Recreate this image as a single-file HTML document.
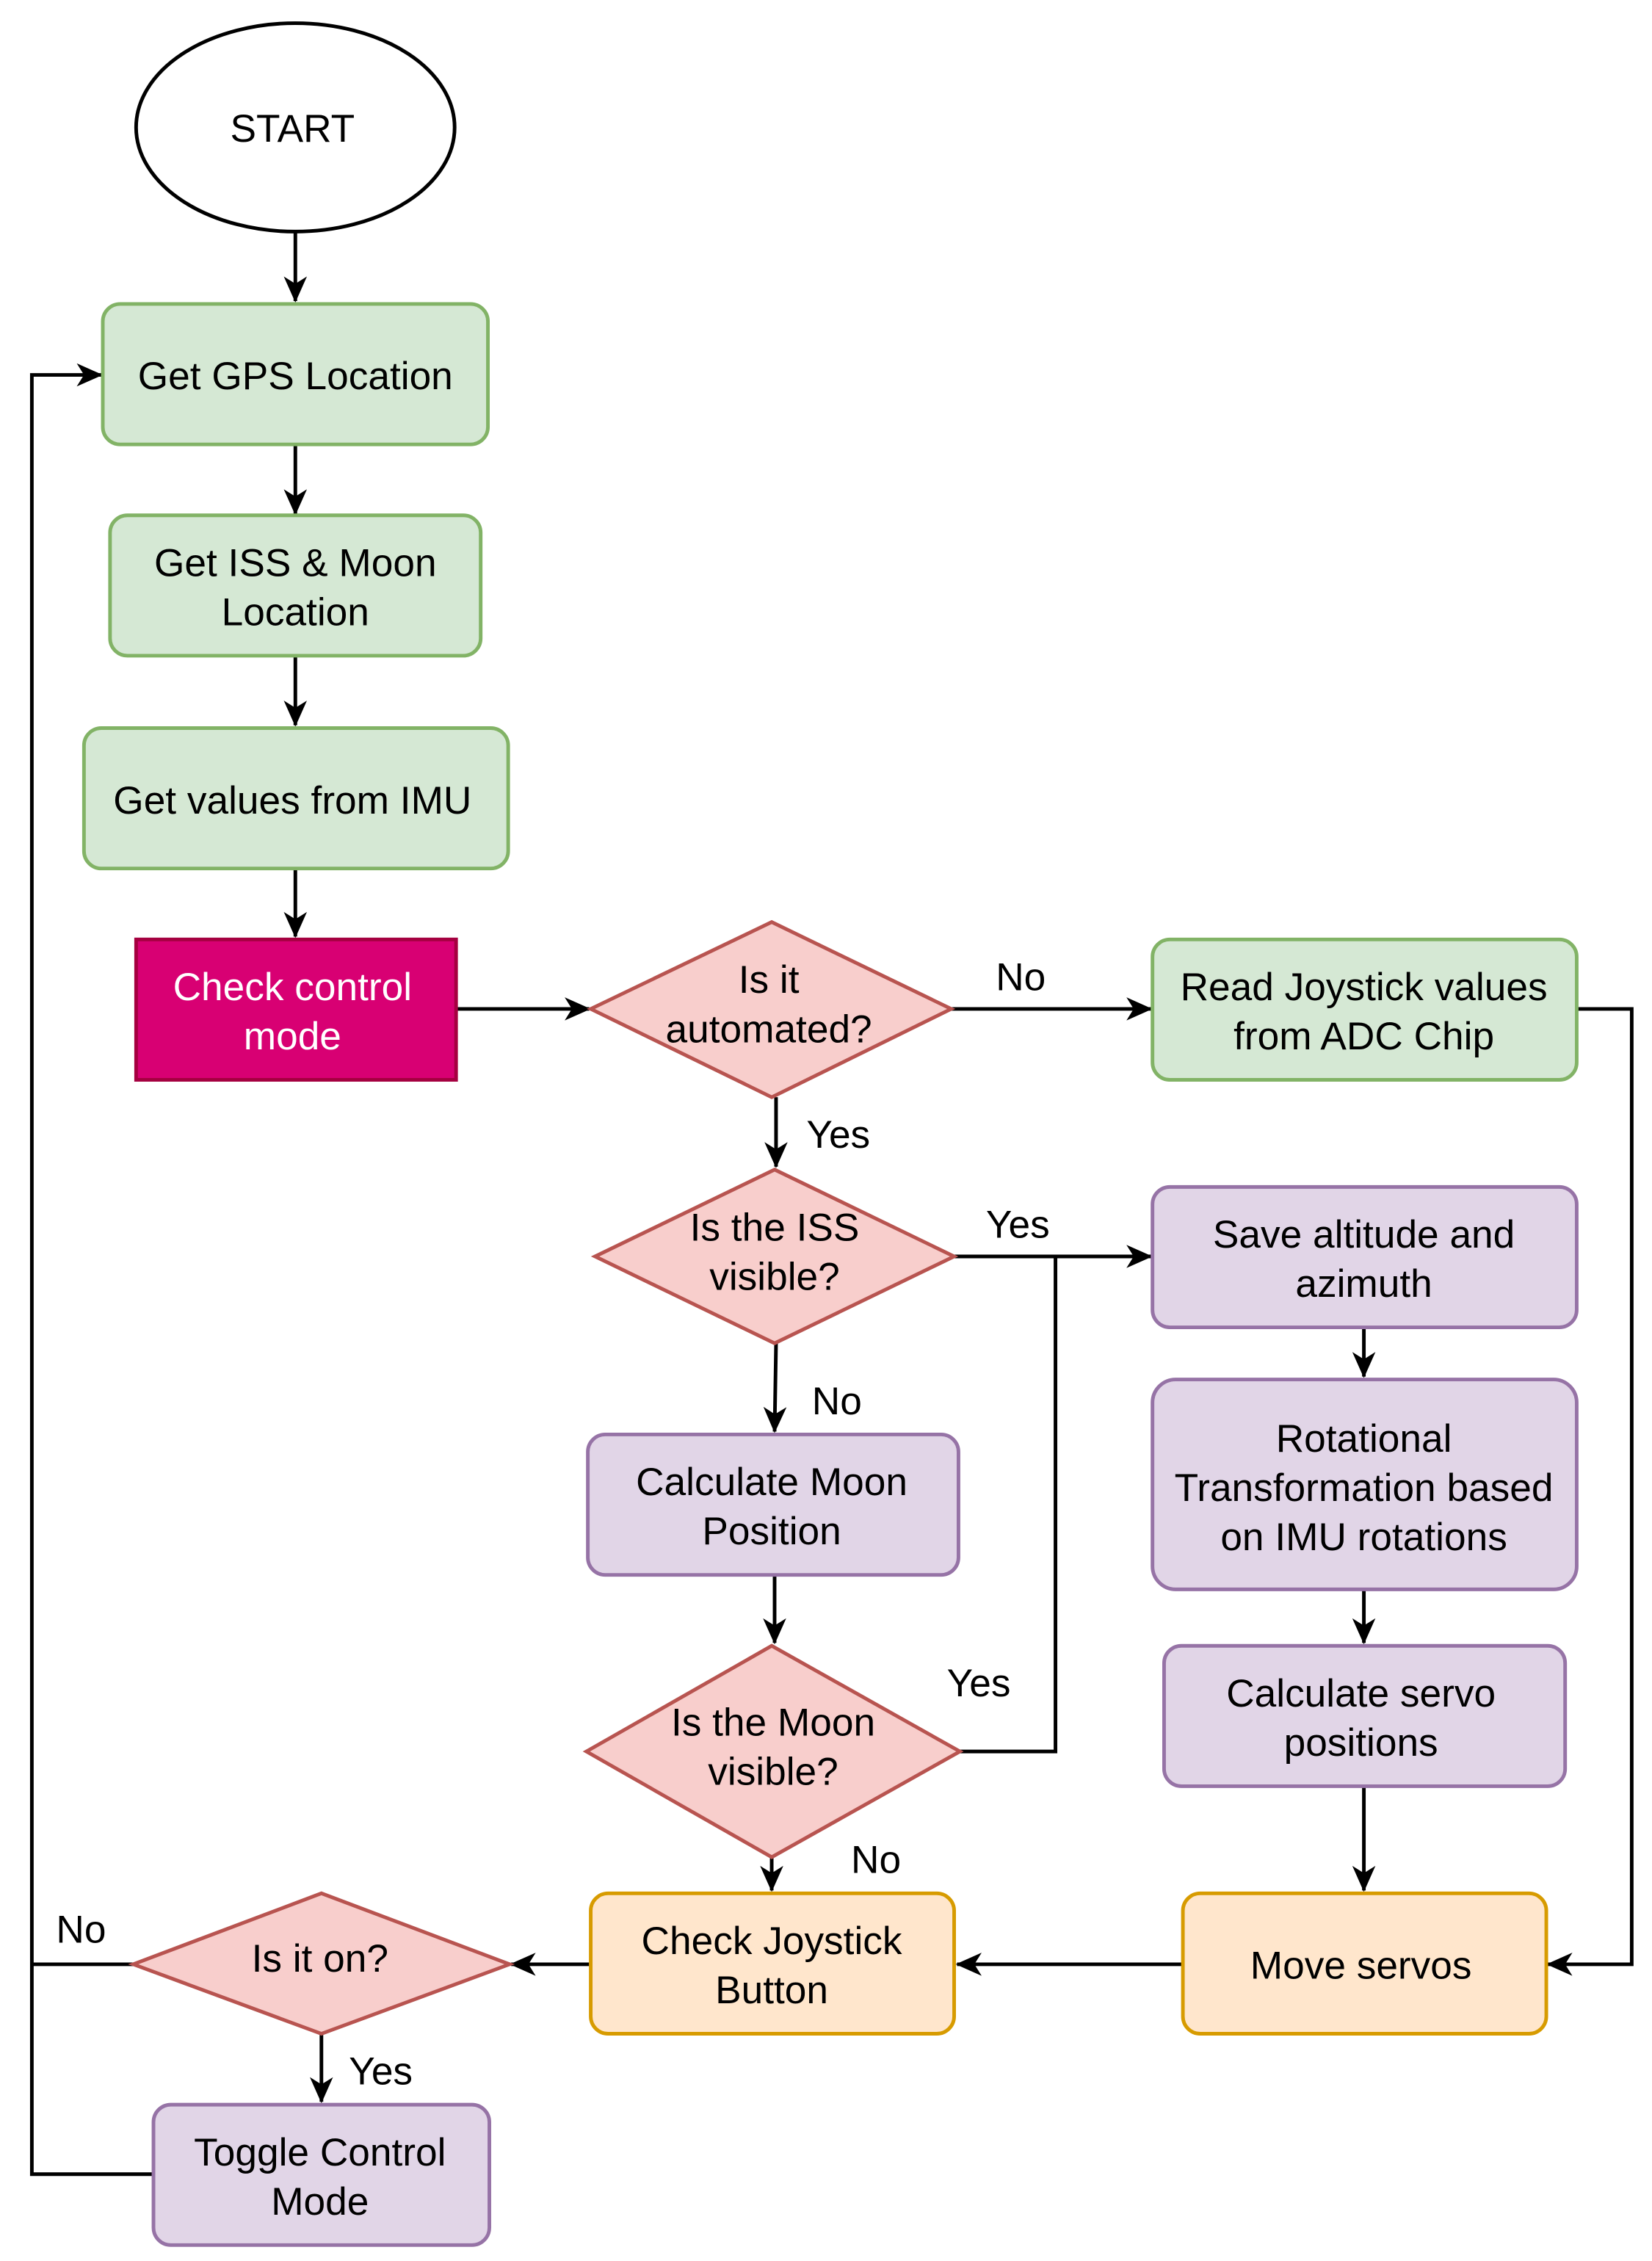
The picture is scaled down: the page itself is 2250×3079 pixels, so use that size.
<!DOCTYPE html>
<html><head><meta charset="utf-8"><style>
html,body{margin:0;padding:0;background:#fff;}
svg{display:block;}
text{font-family:"Liberation Sans",sans-serif;font-size:27px;fill:#000;text-anchor:middle;}
</style></head><body>
<svg width="2250" height="3079" viewBox="0 0 1141 1562" preserveAspectRatio="none" xmlns="http://www.w3.org/2000/svg">
<defs>
<marker id="a" markerWidth="18" markerHeight="16" refX="17" refY="8" orient="auto" markerUnits="userSpaceOnUse" viewBox="0 0 18 16">
<path d="M0,0 L18,8 L0,16 L5,8 Z" fill="#000"/>
</marker>
</defs>
<rect width="1141" height="1562" fill="#fff"/>
<g stroke="#000" stroke-width="2.5" fill="none">
<line x1="204" y1="160" x2="204" y2="208" marker-end="url(#a)"/>
<line x1="204" y1="307" x2="204" y2="355" marker-end="url(#a)"/>
<line x1="204" y1="453" x2="204" y2="501" marker-end="url(#a)"/>
<line x1="204" y1="600" x2="204" y2="647" marker-end="url(#a)"/>
<line x1="315" y1="697" x2="407" y2="697" marker-end="url(#a)"/>
<line x1="657" y1="697" x2="795" y2="697" marker-end="url(#a)"/>
<polyline points="1089,697 1127,697 1127,1357 1069,1357" marker-end="url(#a)"/>
<line x1="536" y1="758" x2="536" y2="806" marker-end="url(#a)"/>
<line x1="659" y1="868" x2="795" y2="868" marker-end="url(#a)"/>
<line x1="942" y1="917" x2="942" y2="951" marker-end="url(#a)"/>
<line x1="942" y1="1098" x2="942" y2="1135" marker-end="url(#a)"/>
<line x1="942" y1="1234" x2="942" y2="1306" marker-end="url(#a)"/>
<line x1="817" y1="1357" x2="661" y2="1357" marker-end="url(#a)"/>
<line x1="536" y1="928" x2="535" y2="989" marker-end="url(#a)"/>
<line x1="535" y1="1088" x2="535" y2="1135" marker-end="url(#a)"/>
<polyline points="663,1210 729,1210 729,868"/>
<line x1="533" y1="1283" x2="533" y2="1306" marker-end="url(#a)"/>
<line x1="408" y1="1357" x2="353" y2="1357" marker-end="url(#a)"/>
<line x1="92" y1="1357" x2="22" y2="1357"/>
<polyline points="106,1502 22,1502 22,259 70,259" marker-end="url(#a)"/>
<line x1="222" y1="1405" x2="222" y2="1452" marker-end="url(#a)"/>
</g>
<g stroke-width="2.5">
<ellipse cx="204" cy="88" rx="110" ry="72" fill="#fff" stroke="#000"/>
<rect x="71" y="210" width="266" height="97" rx="12" fill="#d5e8d4" stroke="#82b366"/>
<rect x="76" y="356" width="256" height="97" rx="12" fill="#d5e8d4" stroke="#82b366"/>
<rect x="58" y="503" width="293" height="97" rx="12" fill="#d5e8d4" stroke="#82b366"/>
<rect x="94" y="649" width="221" height="97" fill="#d80073" stroke="#a50040"/>
<polygon points="408,697 533,637 657,697 533,758" fill="#f8cecc" stroke="#b85450"/>
<rect x="796" y="649" width="293" height="97" rx="12" fill="#d5e8d4" stroke="#82b366"/>
<polygon points="411,868 535,808 659,868 535,928" fill="#f8cecc" stroke="#b85450"/>
<rect x="796" y="820" width="293" height="97" rx="12" fill="#e1d5e7" stroke="#9673a6"/>
<rect x="796" y="953" width="293" height="145" rx="16" fill="#e1d5e7" stroke="#9673a6"/>
<rect x="804" y="1137" width="277" height="97" rx="12" fill="#e1d5e7" stroke="#9673a6"/>
<rect x="817" y="1308" width="251" height="97" rx="12" fill="#ffe6cc" stroke="#d79b00"/>
<rect x="406" y="991" width="256" height="97" rx="12" fill="#e1d5e7" stroke="#9673a6"/>
<polygon points="405,1210 533,1137 663,1210 533,1283" fill="#f8cecc" stroke="#b85450"/>
<rect x="408" y="1308" width="251" height="97" rx="12" fill="#ffe6cc" stroke="#d79b00"/>
<polygon points="92,1357 222,1308 352,1357 222,1405" fill="#f8cecc" stroke="#b85450"/>
<rect x="106" y="1454" width="232" height="97" rx="12" fill="#e1d5e7" stroke="#9673a6"/>
</g>
<text x="202" y="98">START</text>
<text x="204" y="269">Get GPS Location</text>
<text x="204" y="398">Get ISS &amp; Moon</text>
<text x="204" y="432">Location</text>
<text x="202" y="562">Get values from IMU</text>
<text x="202" y="691" style="fill:#fff">Check control</text>
<text x="202" y="725" style="fill:#fff">mode</text>
<text x="531" y="686">Is it</text>
<text x="531" y="720">automated?</text>
<text x="942" y="691">Read Joystick values</text>
<text x="942" y="725">from ADC Chip</text>
<text x="535" y="857">Is the ISS</text>
<text x="535" y="891">visible?</text>
<text x="942" y="862">Save altitude and</text>
<text x="942" y="896">azimuth</text>
<text x="942" y="1003">Rotational</text>
<text x="942" y="1037">Transformation based</text>
<text x="942" y="1071">on IMU rotations</text>
<text x="940" y="1179">Calculate servo</text>
<text x="940" y="1213">positions</text>
<text x="940" y="1367">Move servos</text>
<text x="533" y="1033">Calculate Moon</text>
<text x="533" y="1067">Position</text>
<text x="534" y="1199">Is the Moon</text>
<text x="534" y="1233">visible?</text>
<text x="533" y="1350">Check Joystick</text>
<text x="533" y="1384">Button</text>
<text x="221" y="1362">Is it on?</text>
<text x="221" y="1496">Toggle Control</text>
<text x="221" y="1530">Mode</text>
<text x="705" y="684">No</text>
<text x="579" y="793">Yes</text>
<text x="703" y="855">Yes</text>
<text x="578" y="977">No</text>
<text x="676" y="1172">Yes</text>
<text x="605" y="1294">No</text>
<text x="56" y="1342">No</text>
<text x="263" y="1440">Yes</text>
</svg>
</body></html>
